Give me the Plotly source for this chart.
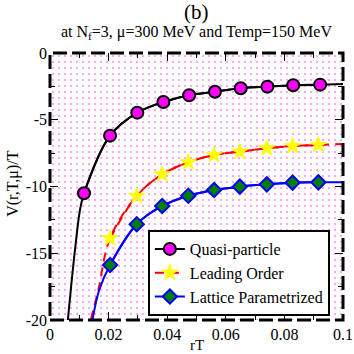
import plotly.graph_objects as go

# ---- data ----
x_marks = [0.0205, 0.0298, 0.0387, 0.0475, 0.0563, 0.0651, 0.0742, 0.0830, 0.0922]
qp_x = [0.0116] + x_marks
qp_y = [-10.51, -6.19, -4.47, -3.67, -3.17, -2.90, -2.64, -2.52, -2.42, -2.37]
qp_curve_x = [0.0061, 0.0072, 0.0085, 0.0102, 0.0116, 0.0205, 0.0298, 0.0387, 0.0475, 0.0563, 0.0651, 0.0742, 0.0830, 0.0922, 0.1]
qp_curve_y = [-20.0, -17.5, -14.8, -11.8, -10.51, -6.19, -4.47, -3.67, -3.17, -2.90, -2.64, -2.52, -2.42, -2.37, -2.32]

lo_x = [0.0205, 0.0296, 0.0383, 0.0472, 0.0560, 0.0648, 0.0740, 0.0828, 0.0916]
lo_y = [-13.88, -10.71, -9.09, -8.19, -7.64, -7.39, -7.14, -6.97, -6.89]
lo_curve_x = [0.0139, 0.0165, 0.0205, 0.0296, 0.0383, 0.0472, 0.0560, 0.0648, 0.0740, 0.0828, 0.0916, 0.1]
lo_curve_y = [-20.0, -17.75, -13.88, -10.71, -9.09, -8.19, -7.64, -7.39, -7.14, -6.97, -6.89, -6.82]

lp_x = [0.0205, 0.0296, 0.0383, 0.0472, 0.0560, 0.0648, 0.0740, 0.0828, 0.0916]
lp_y = [-15.88, -12.83, -11.46, -10.69, -10.26, -10.01, -9.84, -9.71, -9.69]
lp_curve_x = [0.0145, 0.0168, 0.0205, 0.0296, 0.0383, 0.0472, 0.0560, 0.0648, 0.0740, 0.0828, 0.0916, 0.1]
lp_curve_y = [-20.0, -17.75, -15.88, -12.83, -11.46, -10.69, -10.26, -10.01, -9.84, -9.71, -9.69, -9.69]

x_tickvals = [0, 0.02, 0.04, 0.06, 0.08, 0.1]
x_ticktext = ["0", "0.02", "0.04", "0.06", "0.08", "0.1"]
y_tickvals = [0, -5, -10, -15, -20]
y_ticktext = ["0", "-5", "-10", "-15", "-20"]

x_range = [0, 0.1]
y_range = [-20, 0]

FONT = "Liberation Serif"

fig = go.Figure()

# dotted background
fig.add_trace(go.Scatter(
    x=[x_range[0], x_range[1], x_range[1], x_range[0], x_range[0]],
    y=[y_range[0], y_range[0], y_range[1], y_range[1], y_range[0]],
    mode="lines", fill="toself", line=dict(width=0),
    fillcolor="rgba(0,0,0,0)",
    fillpattern=dict(shape=".", fgcolor="#ff22ff", bgcolor="white", size=6, solidity=0.1),
    showlegend=False, hoverinfo="skip"))

# curves
fig.add_trace(go.Scatter(x=qp_curve_x, y=qp_curve_y, mode="lines",
                         line=dict(color="black", width=2, shape="spline"),
                         showlegend=False, hoverinfo="skip"))
fig.add_trace(go.Scatter(x=lo_curve_x, y=lo_curve_y, mode="lines",
                         line=dict(color="red", width=2, dash="9px,6px", shape="spline"),
                         showlegend=False, hoverinfo="skip"))
fig.add_trace(go.Scatter(x=lp_curve_x, y=lp_curve_y, mode="lines",
                         line=dict(color="blue", width=2, shape="spline"),
                         showlegend=False, hoverinfo="skip"))

# markers
fig.add_trace(go.Scatter(x=qp_x, y=qp_y, mode="lines+markers", name="Quasi-particle",
                         line=dict(color="black", width=2, shape="spline"),
                         marker=dict(symbol="circle", size=12, color="#ff00ff",
                                     line=dict(color="black", width=2))))
fig.add_trace(go.Scatter(x=lo_x, y=lo_y, mode="lines+markers", name="Leading Order",
                         line=dict(color="red", width=2, dash="9px,6px", shape="spline"),
                         marker=dict(symbol="star", size=12, color="yellow",
                                     line=dict(color="yellow", width=1))))
fig.add_trace(go.Scatter(x=lp_x, y=lp_y, mode="lines+markers", name="Lattice Parametrized",
                         line=dict(color="blue", width=2, shape="spline"),
                         marker=dict(symbol="diamond", size=11, color="green",
                                     line=dict(color="blue", width=2))))

axis_common = dict(showgrid=False, zeroline=False, showline=False, automargin=False,
                   ticks="inside", mirror="ticks", tickcolor="black",
                   tickwidth=1, ticklen=8,
                   tickfont=dict(family=FONT, size=16, color="black"))

fig.update_xaxes(range=x_range, tickvals=x_tickvals, ticktext=x_ticktext,
                 minor=dict(dtick=0.01, ticks="inside", ticklen=5, tickcolor="black"),
                 ticklabelstandoff=3, **axis_common)
fig.update_yaxes(range=y_range, tickvals=y_tickvals, ticktext=y_ticktext,
                 minor=dict(dtick=2.5, ticks="inside", ticklen=5, tickcolor="black"),
                 ticklabelstandoff=2, **axis_common)

# dashed frame
fig.add_shape(type="rect", xref="paper", yref="paper", x0=0, y0=0, x1=1, y1=1,
              line=dict(color="black", width=3, dash="14px,5px"), layer="above")

fig.add_annotation(text="(b)", xref="paper", yref="paper", x=0.5, y=1, yshift=41,
                   yanchor="middle", showarrow=False,
                   font=dict(family=FONT, size=21, color="black"))
fig.add_annotation(text="at N<sub>f</sub>=3, μ=300 MeV and Temp=150 MeV", xref="paper", yref="paper",
                   x=0.5, y=1, yshift=21, yanchor="middle", showarrow=False,
                   font=dict(family=FONT, size=16, color="black"))
fig.add_annotation(text="rT", xref="paper", yref="paper", x=0.5, y=0, yshift=-25,
                   yanchor="middle", showarrow=False,
                   font=dict(family=FONT, size=15, color="black"))
fig.add_annotation(text="V(r,T,μ)/T", xref="paper", yref="paper", x=0, xshift=-37,
                   y=0.51, textangle=-90, xanchor="center", yanchor="middle", showarrow=False,
                   font=dict(family=FONT, size=16, color="black"))

fig.update_layout(
    width=354, height=354,
    margin=dict(l=50, r=11, t=53, b=34, autoexpand=False),
    paper_bgcolor="white", plot_bgcolor="white",
    legend=dict(x=0.334, y=0.337, xanchor="left", yanchor="top",
                bgcolor="white", bordercolor="black", borderwidth=2,
                font=dict(family=FONT, size=16, color="black"),
                tracegroupgap=0, itemwidth=30),
)

fig.write_html("out.html", config={"displayModeBar": False},
               post_script="document.body.style.margin='0';document.body.style.padding='0';")
